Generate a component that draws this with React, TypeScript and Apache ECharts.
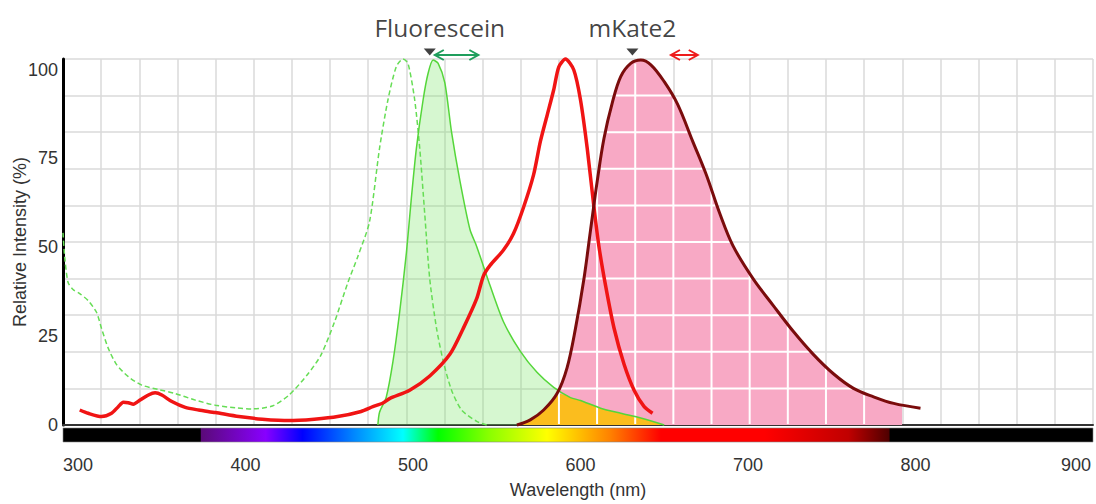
import React, { useEffect, useRef } from "react";
import * as echarts from "echarts";

// Wavelength window (nm) and grid layout of the plot
const X_MIN = 291;
const X_MAX = 906;
const GRID_COLUMNS = 27;
const X_LABELS = [300, 400, 500, 600, 700, 800, 900];
const Y_LABELS = [0, 25, 50, 75, 100];

// Fluorescein excitation (dashed)
const FLUOR_EX_NM = [291, 292, 294, 297, 301, 306, 311, 314, 318, 323, 330, 338, 348, 358, 370, 382, 394, 404, 416, 426, 437, 445, 453, 461, 467, 474, 480, 485, 490, 494, 497, 501, 504, 507, 510, 514, 518, 523, 529, 538, 544];
const FLUOR_EX_VAL = [52.5, 46, 39, 37, 35.9, 34, 30.8, 26.4, 21, 16.5, 13.2, 10.9, 9.7, 8.6, 6.8, 5.4, 4.7, 4.4, 5.2, 8.2, 13.8, 19.1, 28, 38.8, 46, 55.5, 75.6, 88.8, 97.9, 100, 98.8, 88.8, 75.6, 57.6, 39.8, 26.5, 17.5, 9.5, 4.1, 1, 0];

// Fluorescein emission (solid, filled)
const FLUOR_EM_NM = [479, 480, 484, 488, 492, 496, 499, 502, 506, 509, 512, 515, 519, 523, 528, 534, 538, 546, 554, 564, 574, 584, 594, 600, 612, 624, 636, 650];
const FLUOR_EM_VAL = [0, 3.5, 7.6, 17.3, 30.8, 46.9, 62, 75.6, 88.8, 96.1, 99.7, 98.8, 93.5, 80, 66.7, 53.4, 48.8, 38.1, 28.2, 20.2, 14.4, 10.3, 7.5, 6.7, 4.6, 3.2, 1.9, 0];

// mKate2 excitation
const MKATE_EX_NM = [301, 306, 314, 320, 324, 327, 330, 333, 337, 342, 346, 350, 356, 364, 372, 382, 396, 410, 426, 441, 455, 469, 476, 482, 486, 498, 510, 522, 530, 538, 542, 546, 554, 560, 566, 572, 576, 580, 584, 587, 591, 596, 600, 604, 608, 611, 615, 620, 626, 632, 638, 643];
const MKATE_EX_VAL = [4.1, 3.2, 2.3, 3.2, 5, 6.2, 6.1, 5.7, 6.8, 8.2, 8.8, 8.2, 6.4, 4.8, 4.1, 3.4, 2.3, 1.6, 1.2, 1.6, 2.3, 3.7, 5, 6, 7.2, 9.5, 13.4, 19.3, 26.4, 34.5, 40.7, 43.6, 47.8, 52.3, 59.5, 68.4, 77.4, 84.5, 91.6, 97.8, 100, 97, 88.8, 75.6, 59.6, 48.8, 38, 26.5, 16.6, 9.5, 5, 3.2];

// mKate2 emission
const MKATE_EM_NM = [562, 570, 578, 586, 592, 597, 602, 606, 610, 614, 619, 624, 630, 636, 642, 650, 658, 667, 675, 683, 691, 703, 715, 727, 739, 751, 763, 775, 787, 803];
const MKATE_EM_VAL = [0, 1.4, 4.1, 8.6, 15.7, 26.4, 39.8, 53.3, 66.7, 78.3, 88.1, 95.2, 98.8, 99.7, 98.4, 93.8, 87.6, 77.5, 68.5, 58, 49, 40, 32.7, 25.6, 19.3, 14, 10, 7.7, 5.9, 4.6];

// Upper end of the shaded mKate2 detection window
const DETECT_END_NM = 792;

// Peak markers and filter bands
const MARKER_NAMES = ["Fluorescein", "mKate2"];
const MARKER_NM = [510, 631];
const BAND_START_NM = [513, 654];
const BAND_END_NM = [539, 670];
const BAND_COLORS = ["#1f9e5c", "#ee1c1c"];

// Visible spectrum strip under the axis
const SPECTRUM_NM = [291, 373, 373.5, 412, 434, 465, 494, 515, 545, 580, 618, 648, 710, 760, 784, 785, 906];
const SPECTRUM_COLORS = ["#000000", "#000000", "#5a0a78", "#8800ff", "#0000ff", "#0088ff", "#00ffff", "#00ff00", "#88ff00", "#ffff00", "#ff8000", "#ff0000", "#ff0000", "#c00000", "#500000", "#000000", "#000000"];

const FONT = "'Liberation Sans', Arial, sans-serif";
const TEXT_COLOR = "#333333";
const GRID_LINE = "#dadada";
const PINK = "#f8a9c5";
const ORANGE = "#fbbd1e";

function interp(xs: number[], ys: number[], x: number): number {
  if (x <= xs[0] || x >= xs[xs.length - 1]) return x === xs[0] ? ys[0] : x === xs[xs.length - 1] ? ys[ys.length - 1] : 0;
  for (let i = 1; i < xs.length; i++) {
    if (x <= xs[i]) {
      const t = (x - xs[i - 1]) / (xs[i] - xs[i - 1]);
      return ys[i - 1] + t * (ys[i] - ys[i - 1]);
    }
  }
  return 0;
}

const zip = (xs: number[], ys: number[]) => xs.map((x, i) => [x, ys[i]]);

// Shaded detection window: emission up to its cut-off
const detectData = [
  ...zip(MKATE_EM_NM, MKATE_EM_VAL).filter((p) => p[0] < DETECT_END_NM),
  [DETECT_END_NM, interp(MKATE_EM_NM, MKATE_EM_VAL, DETECT_END_NM)],
];

// Bleed-through: fluorescein emission inside the mKate2 emission
const overlapNm = Array.from(
  new Set([...FLUOR_EM_NM, ...MKATE_EM_NM].filter((x) => x >= MKATE_EM_NM[0] && x <= FLUOR_EM_NM[FLUOR_EM_NM.length - 1]))
).sort((a, b) => a - b);
const overlapData = overlapNm.map((x) => [
  x,
  Math.min(interp(FLUOR_EM_NM, FLUOR_EM_VAL, x), interp(MKATE_EM_NM, MKATE_EM_VAL, x)),
]);

function crossings(level: number): [number, number] | null {
  let left: number | null = null;
  let right: number | null = null;
  for (let i = 1; i < MKATE_EM_NM.length; i++) {
    const y0 = MKATE_EM_VAL[i - 1];
    const y1 = MKATE_EM_VAL[i];
    const x0 = MKATE_EM_NM[i - 1];
    const x1 = MKATE_EM_NM[i];
    if (left === null && y0 < level && y1 >= level) left = x0 + ((level - y0) / (y1 - y0)) * (x1 - x0);
    if (y0 >= level && y1 < level) right = x0 + ((y0 - level) / (y0 - y1)) * (x1 - x0);
  }
  if (left === null) return null;
  if (right === null) right = MKATE_EM_NM[MKATE_EM_NM.length - 1];
  return [left, Math.min(right, DETECT_END_NM)];
}

export default function App() {
  const ref = useRef<HTMLDivElement>(null);

  useEffect(() => {
    if (!ref.current) return;
    const chart = echarts.init(ref.current, null, { renderer: "svg" });
    const step = (X_MAX - X_MIN) / GRID_COLUMNS;
    const smooth = 0.25;

    const option: any = {
      animation: false,
      grid: { left: 63, top: 59, width: 1030, height: 373, containLabel: false },
      xAxis: [
        {
          type: "value",
          min: X_MIN,
          max: X_MAX,
          name: "Wavelength (nm)",
          nameLocation: "middle",
          nameGap: 56,
          nameTextStyle: { fontFamily: FONT, fontSize: 18, color: TEXT_COLOR },
          axisLine: { show: true, lineStyle: { color: "#333333", width: 2 } },
          axisTick: { show: false },
          splitLine: { show: false },
          axisLabel: {
            customValues: X_LABELS,
            margin: 31,
            fontFamily: FONT,
            fontSize: 18,
            color: TEXT_COLOR,
            formatter: (v: number) => (v === X_LABELS[X_LABELS.length - 1] ? `{r|${v}}` : `${v}`),
            rich: { r: { fontFamily: FONT, fontSize: 18, color: TEXT_COLOR, padding: [0, 14, 0, 0] } },
          },
        },
        {
          type: "value",
          min: 0,
          max: GRID_COLUMNS,
          interval: 1,
          position: "top",
          axisLine: { show: false },
          axisTick: { show: false },
          axisLabel: { show: false },
          splitLine: { show: true, lineStyle: { color: GRID_LINE, width: 1.5 } },
        },
      ],
      yAxis: [
        {
          type: "value",
          min: 0,
          max: 100,
          interval: 10,
          name: "Relative Intensity (%)",
          nameLocation: "middle",
          nameGap: 34,
          nameTextStyle: { fontFamily: FONT, fontSize: 18, color: TEXT_COLOR },
          axisLine: { show: true, lineStyle: { color: "#000000", width: 3 } },
          axisTick: { show: false },
          axisLabel: { show: false },
          splitLine: { show: true, lineStyle: { color: GRID_LINE, width: 1.5 } },
        },
        {
          type: "value",
          min: 0,
          max: 103,
          position: "left",
          axisLine: { show: false },
          axisTick: { show: false },
          splitLine: { show: false },
          axisLabel: { customValues: Y_LABELS, margin: 5, fontFamily: FONT, fontSize: 18, color: TEXT_COLOR },
        },
      ],
      series: [
        {
          name: "Fluorescein Em area",
          type: "line",
          z: 1,
          silent: true,
          smooth,
          symbol: "none",
          data: zip(FLUOR_EM_NM, FLUOR_EM_VAL),
          lineStyle: { opacity: 0 },
          areaStyle: { color: "rgba(120, 230, 100, 0.3)", opacity: 1 },
        },
        {
          name: "mKate2 detection",
          type: "line",
          z: 2,
          silent: true,
          smooth,
          symbol: "none",
          data: detectData,
          lineStyle: { opacity: 0 },
          areaStyle: { color: PINK, opacity: 1 },
        },
        {
          name: "Bleed-through",
          type: "line",
          z: 3,
          silent: true,
          smooth,
          symbol: "none",
          data: overlapData,
          lineStyle: { opacity: 0 },
          areaStyle: { color: ORANGE, opacity: 1 },
        },
        {
          name: "Detection grid",
          type: "custom",
          z: 4,
          silent: true,
          data: [[X_MIN, 0]],
          renderItem: (_params: any, api: any) => {
            const children: any[] = [];
            for (let k = 1; k < GRID_COLUMNS; k++) {
              const g = X_MIN + k * step;
              if (g <= MKATE_EM_NM[0] || g >= DETECT_END_NM) continue;
              const top = interp(MKATE_EM_NM, MKATE_EM_VAL, g);
              const p0 = api.coord([g, 0]);
              const p1 = api.coord([g, top]);
              children.push({
                type: "line",
                shape: { x1: p0[0], y1: p0[1] - 1, x2: p1[0], y2: p1[1] + 1.5 },
                style: { stroke: "#ffffff", lineWidth: 2 },
              });
            }
            for (let level = 10; level < 100; level += 10) {
              const c = crossings(level);
              if (!c) continue;
              const a = api.coord([c[0], level]);
              const b = api.coord([c[1], level]);
              children.push({
                type: "line",
                shape: { x1: a[0] + 1.5, y1: a[1], x2: b[0] - 1.5, y2: b[1] },
                style: { stroke: "#ffffff", lineWidth: 2 },
              });
            }
            return { type: "group", children };
          },
        },
        {
          name: "Fluorescein Ex",
          type: "line",
          z: 5,
          clip: false,
          silent: true,
          smooth,
          symbol: "none",
          data: zip(FLUOR_EX_NM, FLUOR_EX_VAL),
          lineStyle: { color: "#66dd55", width: 1.5, type: [5, 3] },
        },
        {
          name: "Fluorescein Em",
          type: "line",
          z: 6,
          clip: false,
          silent: true,
          smooth,
          symbol: "none",
          data: zip(FLUOR_EM_NM, FLUOR_EM_VAL),
          lineStyle: { color: "#55d63a", width: 1.5 },
        },
        {
          name: "mKate2 Ex",
          type: "line",
          z: 7,
          clip: false,
          silent: true,
          smooth,
          symbol: "none",
          data: zip(MKATE_EX_NM, MKATE_EX_VAL),
          lineStyle: { color: "#f01414", width: 3.5 },
        },
        {
          name: "mKate2 Em",
          type: "line",
          z: 8,
          clip: false,
          silent: true,
          smooth: 0.35,
          symbol: "none",
          data: zip(MKATE_EM_NM, MKATE_EM_VAL),
          lineStyle: { color: "#7a0c0c", width: 3 },
        },
        {
          name: "Spectrum",
          type: "custom",
          z: 2,
          clip: false,
          silent: true,
          data: [[X_MIN, 0]],
          renderItem: (_params: any, api: any) => {
            const a = api.coord([X_MIN, 0]);
            const b = api.coord([X_MAX, 0]);
            const stops = SPECTRUM_NM.map((nm, i) => ({
              offset: (nm - X_MIN) / (X_MAX - X_MIN),
              color: SPECTRUM_COLORS[i],
            }));
            return {
              type: "rect",
              shape: { x: a[0], y: a[1] + 3, width: b[0] - a[0], height: 14 },
              style: { fill: new echarts.graphic.LinearGradient(0, 0, 1, 0, stops), stroke: "#888888", lineWidth: 0.6 },
            };
          },
        },
        {
          name: "Filter bands",
          type: "custom",
          z: 9,
          clip: false,
          silent: true,
          data: BAND_START_NM.map((s, i) => [s, BAND_END_NM[i]]),
          encode: { x: [0, 1] },
          renderItem: (params: any, api: any) => {
            const s = api.coord([api.value(0), 100]);
            const e = api.coord([api.value(1), 100]);
            const y = s[1] - 4;
            const color = BAND_COLORS[params.dataIndex];
            const hl = 9;
            const hw = 5;
            return {
              type: "group",
              children: [
                { type: "line", shape: { x1: s[0], y1: y, x2: e[0], y2: y }, style: { stroke: color, lineWidth: 2 } },
                { type: "polyline", shape: { points: [[s[0] + hl, y - hw], [s[0], y], [s[0] + hl, y + hw]] }, style: { stroke: color, lineWidth: 2, fill: null } },
                { type: "polyline", shape: { points: [[e[0] - hl, y - hw], [e[0], y], [e[0] - hl, y + hw]] }, style: { stroke: color, lineWidth: 2, fill: null } },
              ],
            };
          },
        },
        {
          name: "Peaks",
          type: "scatter",
          z: 10,
          clip: false,
          silent: true,
          symbol: "triangle",
          symbolRotate: 180,
          symbolSize: [12, 7],
          symbolOffset: [0, -7],
          itemStyle: { color: "#111111" },
          data: MARKER_NAMES.map((name, i) => ({
            name,
            value: [MARKER_NM[i], 100],
            label: { offset: [i === 0 ? 10 : 0, 0] },
          })),
          label: {
            show: true,
            position: "top",
            distance: 9,
            formatter: (p: any) => p.name,
            fontFamily: "'Open Sans', 'Noto Sans', sans-serif",
            fontSize: 24.5,
            color: "#111111",
          },
        },
      ],
    };

    chart.setOption(option);
    return () => chart.dispose();
  }, []);

  return <div ref={ref} style={{ position: "absolute", left: 0, top: 0, width: 1096, height: 504 }} />;
}
